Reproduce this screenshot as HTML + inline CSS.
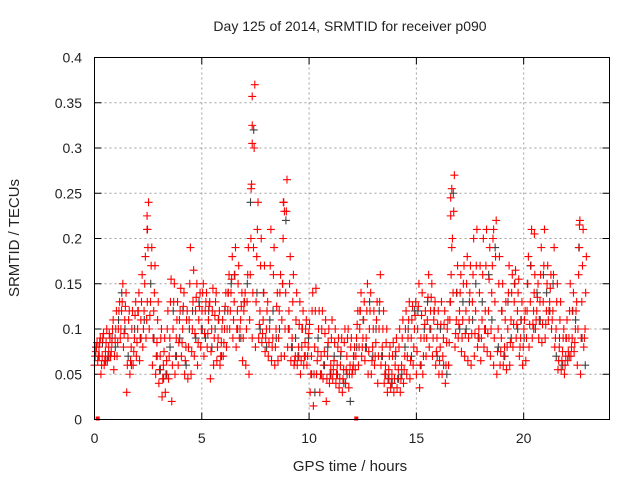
<!DOCTYPE html>
<html><head><meta charset="utf-8"><style>
body{margin:0;background:#fff;font-family:"Liberation Sans",sans-serif}
svg text{font-family:"Liberation Sans",sans-serif;fill:#222}
</style></head><body>
<svg id="chart" width="640" height="480" xmlns="http://www.w3.org/2000/svg">
<rect width="640" height="480" fill="#fff"/>
<text x="350" y="31" font-size="14" text-anchor="middle">Day 125 of 2014, SRMTID for receiver p090</text>
<text x="350" y="471" font-size="15" text-anchor="middle">GPS time / hours</text>
<text transform="translate(19,238) rotate(-90)" font-size="15" text-anchor="middle">SRMTID / TECUs</text>
<g id="grid"></g><g id="ticks"></g><g id="marks"></g>
<rect x="94.5" y="57.5" width="515" height="362" fill="none" stroke="#000" stroke-width="1"/>
</svg>
<script>
const xTicks=[0,5,10,15,20];
const yTicks=[0,0.05,0.1,0.15,0.2,0.25,0.3,0.35,0.4];
const yTickLabels=["0","0.05","0.1","0.15","0.2","0.25","0.3","0.35","0.4"];
const tStep=0.15;
const redHigh=[.085,.09,.095,.10,.09,.11,.12,.13,.15,.14,
.12,.12,.13,.14,.16,.18,.24,.19,.17,.13,
.10,.09,.12,.155,.15,.13,.145,.14,.12,.19,
.165,.15,.14,.15,.14,.13,.145,.14,.12,.11,
.14,.16,.18,.19,.17,.14,.14,.19,.26,.37,
.24,.20,.17,.13,.21,.19,.14,.16,.24,.265,
.18,.16,.14,.13,.12,.11,.105,.14,.145,.12,
.12,.11,.10,.11,.10,.09,.09,.10,.10,.09,
.08,.12,.14,.13,.15,.14,.12,.13,.16,.12,
.10,.08,.085,.09,.10,.11,.12,.13,.125,.13,
.15,.14,.12,.16,.15,.13,.12,.13,.12,.11,
.16,.27,.17,.16,.17,.18,.17,.20,.21,.17,
.20,.21,.19,.20,.22,.18,.15,.13,.17,.16,
.165,.155,.13,.12,.18,.21,.16,.15,.19,.21,
.17,.16,.19,.15,.13,.10,.11,.15,.14,.13,
.22,.21,.18];
const redQ3=[.08,.085,.09,.085,.095,.10,.10,.12,.13,.125,
.11,.10,.115,.12,.13,.15,.19,.17,.14,.11,
.09,.075,.10,.13,.13,.11,.12,.125,.11,.15,
.13,.135,.125,.14,.13,.125,.12,.13,.11,.10,
.125,.14,.155,.16,.15,.125,.13,.16,.20,.30,
.21,.17,.14,.12,.17,.16,.125,.14,.20,.23,
.15,.13,.11,.105,.10,.10,.095,.12,.12,.10,
.10,.095,.085,.09,.085,.08,.075,.085,.09,.08,
.07,.105,.12,.11,.12,.12,.10,.11,.13,.10,
.085,.07,.07,.075,.08,.09,.10,.11,.11,.115,
.125,.115,.105,.135,.135,.12,.105,.105,.105,.10,
.13,.23,.14,.14,.15,.15,.14,.16,.17,.14,
.16,.17,.155,.17,.18,.15,.12,.11,.14,.14,
.15,.14,.11,.11,.15,.17,.14,.135,.16,.17,
.15,.145,.16,.13,.11,.09,.09,.12,.12,.12,
.19,.17,.14];
const redMid=[.075,.08,.07,.075,.08,.085,.09,.10,.12,.11,
.09,.08,.09,.10,.11,.12,.13,.13,.12,.085,
.07,.06,.065,.09,.10,.09,.11,.10,.08,.11,
.10,.12,.11,.12,.12,.11,.10,.115,.09,.085,
.10,.12,.14,.13,.12,.11,.12,.13,.16,.19,
.18,.12,.11,.10,.10,.09,.10,.12,.15,.14,
.12,.09,.07,.08,.08,.085,.08,.07,.08,.075,
.07,.075,.07,.06,.065,.06,.06,.055,.07,.06,
.06,.09,.10,.09,.09,.10,.08,.085,.10,.08,
.06,.055,.05,.06,.055,.06,.07,.09,.09,.10,
.10,.09,.09,.11,.12,.11,.09,.08,.09,.085,
.11,.14,.11,.12,.11,.12,.11,.13,.12,.10,
.11,.12,.12,.14,.13,.10,.09,.08,.10,.11,
.13,.12,.09,.10,.12,.13,.12,.12,.13,.13,
.12,.13,.12,.10,.08,.075,.07,.09,.09,.10,
.16,.13,.10];
const redQ1=[.07,.07,.06,.065,.07,.075,.07,.085,.10,.095,
.06,.065,.075,.085,.09,.10,.11,.115,.09,.07,
.055,.045,.05,.07,.06,.07,.085,.085,.065,.08,
.075,.095,.085,.10,.095,.095,.075,.09,.08,.07,
.085,.10,.12,.11,.10,.10,.09,.10,.11,.14,
.13,.105,.095,.09,.085,.08,.08,.09,.11,.10,
.10,.08,.065,.07,.065,.07,.07,.05,.05,.065,
.05,.06,.045,.05,.055,.05,.045,.045,.055,.05,
.055,.07,.08,.08,.08,.075,.065,.07,.07,.07,
.05,.045,.04,.045,.045,.045,.055,.07,.065,.08,
.075,.06,.07,.09,.10,.09,.075,.065,.07,.06,
.085,.20,.095,.105,.09,.095,.09,.095,.095,.09,
.09,.10,.095,.10,.09,.075,.075,.07,.08,.085,
.105,.105,.08,.08,.09,.105,.105,.11,.11,.105,
.105,.12,.11,.09,.065,.065,.06,.075,.08,.085,
.10,.09,.09];
const redLow=[.06,.065,.05,.06,.065,.07,.055,.07,.09,.08,
.03,.05,.06,.07,.065,.08,.09,.10,.06,.05,
.04,.025,.03,.045,.02,.05,.06,.07,.05,.045,
.05,.07,.06,.08,.07,.08,.045,.06,.065,.06,
.07,.08,.10,.09,.08,.09,.065,.06,.05,.09,
.08,.09,.085,.075,.07,.065,.06,.065,.07,.07,
.08,.065,.06,.06,.05,.06,.06,.03,.015,.05,
.03,.045,.02,.04,.045,.04,.035,.03,.04,.035,
.05,.055,.06,.07,.065,.05,.05,.06,.04,.06,
.04,.03,.035,.03,.035,.03,.04,.05,.045,.06,
.05,.035,.05,.07,.08,.07,.06,.05,.05,.04,
.06,.19,.08,.09,.075,.07,.065,.06,.07,.08,
.065,.08,.075,.07,.06,.05,.06,.06,.055,.06,
.08,.09,.07,.06,.065,.08,.09,.10,.09,.085,
.09,.11,.10,.08,.055,.055,.05,.065,.07,.075,
.06,.05,.08];
const graySeries=[.08,.07,.085,.065,.07,.09,.08,.11,.14,.10,
.07,.06,.10,.12,.09,.11,.21,.15,.09,.07,
.055,.045,.05,.08,.12,.07,.09,.12,.06,.10,
.12,.09,.13,.10,.09,.12,.08,.10,.11,.07,
.12,.14,.15,.16,.10,.09,.13,.15,.24,.32,
.14,.10,.14,.08,.11,.12,.09,.10,.15,.22,
.10,.08,.09,.07,.10,.07,.09,.05,.03,.09,
.05,.06,.08,.05,.07,.05,.07,.04,.05,.02,
.07,.08,.12,.11,.08,.13,.07,.10,.12,.07,
.05,.045,.04,.07,.045,.05,.08,.10,.07,.12,
.12,.06,.10,.13,.10,.12,.07,.10,.06,.05,
.13,.25,.14,.10,.13,.10,.13,.11,.15,.09,
.13,.10,.16,.11,.19,.08,.12,.07,.13,.09,
.15,.10,.11,.09,.15,.17,.10,.14,.11,.16,
.14,.12,.15,.07,.09,.06,.09,.07,.12,.11,
.19,.09,.06];
const spikeTimes=[2.45,2.45,7.35,7.35,7.35,7.3,8.8,8.85,16.6,16.6,16.65,18.6,20.5,22.6];
const spikeValues=[.225,.21,.357,.325,.305,.255,.24,.23,.245,.225,.255,.21,.205,.215];
const zeroTimes=[0.15,12.2];

const NS='http://www.w3.org/2000/svg';
const X0=94.5,X1=609.5,Y0=419.5,Y1=57.5;
const xs=t=>X0+(t/24)*(X1-X0);
const ys=v=>Y0-(v/0.4)*(Y0-Y1);
function mk(tag,at,parent){const e=document.createElementNS(NS,tag);for(const k in at)e.setAttribute(k,at[k]);parent.appendChild(e);return e;}
const grid=document.getElementById('grid'),ticks=document.getElementById('ticks'),marks=document.getElementById('marks');
xTicks.forEach(t=>{const x=xs(t);
 if(t>0){const g=mk('line',{x1:x,x2:x,y1:Y1,y2:Y0,stroke:'#a0a0a0','stroke-dasharray':'2,3'},grid);
 
 }
 mk('line',{x1:x,x2:x,y1:Y0,y2:Y0-7,stroke:'#000'},ticks);
 mk('line',{x1:x,x2:x,y1:Y1,y2:Y1+7,stroke:'#000'},ticks);
 const l=mk('text',{x:x,y:443,'font-size':14,'text-anchor':'middle'},ticks);l.textContent=String(t);
 
 
});
yTicks.forEach((v,i)=>{const y=ys(v);
 if(v>0&&v<0.4){const g=mk('line',{x1:X0,x2:X1,y1:y,y2:y,stroke:'#a0a0a0','stroke-dasharray':'2,3'},grid);
 
 }
 mk('line',{x1:X0,x2:X0+7,y1:y,y2:y,stroke:'#000'},ticks);
 mk('line',{x1:X1,x2:X1-7,y1:y,y2:y,stroke:'#000'},ticks);
 const l=mk('text',{x:82,y:y+5,'font-size':14,'text-anchor':'end'},ticks);l.textContent=yTickLabels[i];
 
 
});
function plus(t,v,color,name){const x=xs(t),y=ys(v);
 const p=mk('path',{d:`M${x-4},${y}h8M${x},${y-4}v8`,stroke:color,'stroke-width':1.1,fill:'none'},marks);
 
 }
graySeries.forEach((v,i)=>plus(i*tStep+0.07,v,'#404040','gray-point'));
[redLow,redQ1,redMid,redQ3,redHigh].forEach((arr,k)=>arr.forEach((v,i)=>plus(i*tStep+k*0.03,v,'#ff0000','red-point')));
spikeTimes.forEach((t,i)=>plus(t,spikeValues[i],'#ff0000','red-spike-point'));
zeroTimes.forEach(t=>{const r=mk('rect',{x:xs(t)-2,y:Y0-3,width:4,height:4,fill:'#ff0000'},marks);
 
 });
</script>
</body></html>
